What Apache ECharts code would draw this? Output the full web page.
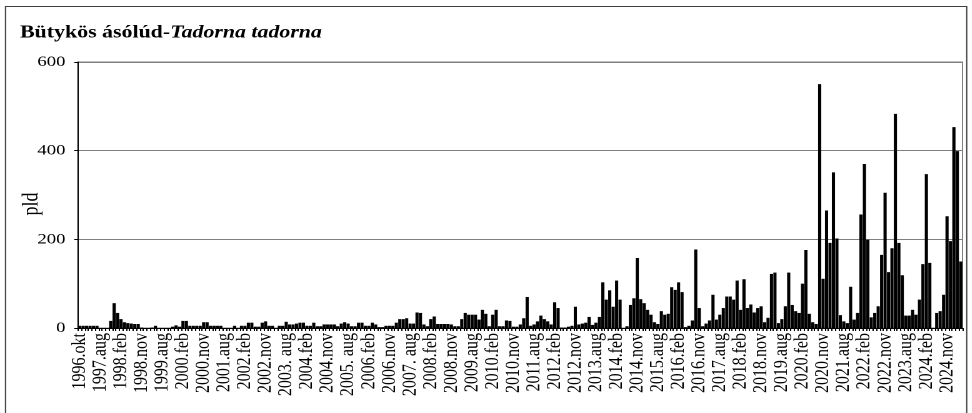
<!DOCTYPE html>
<html>
<head>
<meta charset="utf-8">
<script src="https://cdn.jsdelivr.net/npm/echarts@6/dist/echarts.min.js"></script>
<style>
  html, body { margin: 0; padding: 0; background: #fff; overflow: hidden; }
  /* the reference picture is horizontally stretched; draw at 972/1.25 wide and stretch */
  #chart { width: 777.6px; height: 413px; transform: scaleX(1.25); transform-origin: 0 0; }
</style>
</head>
<body>
<div id="chart"></div>
<script>
// Survey months of one season (Aug -> Apr)
const seasonMonths = ['aug', 'sep', 'okt', 'nov', 'dec', 'jan', 'feb', 'mar', 'apr'];
// first (partial) season 1996/97
const firstSeason = ['1996.okt', '1996.nov', '1996.dec', '1997.jan', '1997.feb', '1997.mar'];
const lastSeasonStart = 2024; // 2024.aug ... 2025.mar
const lastSeasonLength = 8;

// Axis labels shown under the chart (every 6th survey)
const tickLabels = ['1996.okt', '1997.aug', '1998.feb', '1998.nov', '1999.aug', '2000.feb', '2000.nov',
  '2001.aug', '2002.feb', '2002.nov', '2003. aug', '2004.feb', '2004.nov', '2005. aug', '2006.feb',
  '2006.nov', '2007. aug', '2008.feb', '2008.nov', '2009.aug', '2010.feb', '2010.nov', '2011.aug',
  '2012.feb', '2012.nov', '2013.aug', '2014.feb', '2014.nov', '2015.aug', '2016.feb', '2016.nov',
  '2017.aug', '2018.feb', '2018.nov', '2019.aug', '2020.feb', '2020.nov', '2021.aug', '2022.feb',
  '2022.nov', '2023.aug', '2024.feb', '2024.nov'];

// Counts (pld), grouped by season
const counts1996to2002 = [
  5, 5, 5, 5, 5, 5,
  0, 0, 0, 16, 56, 34, 20, 13, 11,
  10, 9, 9, 1, 0, 0, 1, 5, 0,
  0, 0, 0, 3, 6, 3, 16, 16, 5,
  5, 5, 5, 13, 13, 5, 5, 5, 5,
  0, 0, 0, 5, 0, 5, 5, 12, 12,
  3, 3, 12, 15, 5, 5, 0, 5, 5
];
const counts2003to2009 = [
  14, 8, 8, 10, 12, 12, 5, 5, 12,
  4, 4, 8, 8, 8, 8, 4, 10, 13,
  10, 4, 4, 12, 12, 5, 5, 12, 8,
  2, 2, 5, 5, 5, 12, 20, 20, 22,
  10, 10, 35, 34, 8, 4, 20, 26, 9,
  9, 9, 9, 8, 4, 4, 20, 34, 30,
  30, 30, 19, 41, 32, 4, 30, 41, 4
];
const counts2010to2016 = [
  4, 17, 16, 3, 3, 8, 22, 70, 5,
  8, 15, 28, 20, 15, 8, 58, 45, 1,
  1, 3, 5, 48, 8, 10, 12, 25, 7,
  12, 25, 103, 64, 85, 48, 107, 64, 0,
  4, 52, 67, 158, 65, 56, 41, 30, 13,
  9, 38, 30, 32, 92, 86, 103, 81, 2,
  5, 17, 177, 45, 4, 10, 17, 75, 19
];
const counts2017to2024 = [
  30, 45, 71, 71, 64, 107, 41, 110, 45,
  53, 35, 45, 49, 13, 23, 122, 125, 11,
  20, 49, 125, 52, 38, 34, 100, 176, 32,
  13, 9, 550, 111, 265, 192, 351, 202, 29,
  15, 11, 93, 19, 34, 256, 370, 199, 24,
  34, 49, 165, 305, 126, 180, 483, 192, 119,
  28, 28, 41, 30, 64, 144, 347, 147, 0,
  34, 38, 75, 252, 196, 453, 399, 150
];

const counts = counts1996to2002.concat(counts2003to2009, counts2010to2016, counts2017to2024);

// Build survey categories
const categories = firstSeason.slice();
for (let y = 1997; y <= lastSeasonStart; y++) {
  const n = (y === lastSeasonStart) ? lastSeasonLength : seasonMonths.length;
  for (let k = 0; k < n; k++) {
    const m = seasonMonths[k];
    const yr = (k <= 4) ? y : y + 1;
    categories.push(yr + '.' + m);
  }
}

const serif = '"Liberation Serif", "Times New Roman", serif';
const chart = echarts.init(document.getElementById('chart'), null, { renderer: 'canvas', devicePixelRatio: 2 });

chart.setOption({
  animation: false,
  backgroundColor: '#ffffff',
  title: {
    text: '{b|Bütykös ásólúd-}{i|Tadorna tadorna}',
    left: 11,
    top: 19,
    textStyle: {
      rich: {
        b: { fontFamily: serif, fontWeight: 'bold', fontSize: 17.5, color: '#000' },
        i: { fontFamily: serif, fontWeight: 'bold', fontStyle: 'italic', fontSize: 17.5, color: '#000' }
      }
    }
  },
  graphic: [{
    type: 'rect',
    shape: { x: 4.4, y: 6.5, width: 769, height: 420 },
    style: { fill: 'none', stroke: '#404040', lineWidth: 1 },
    silent: true
  }],
  grid: {
    left: 62.4, right: 8, top: 62, bottom: 85,
    containLabel: false,
    outerBoundsMode: 'none',
    show: true, borderColor: '#808080', borderWidth: 1, backgroundColor: 'transparent'
  },
  xAxis: {
    type: 'category',
    data: categories,
    boundaryGap: true,
    axisLine: { lineStyle: { color: '#000', width: 1 } },
    axisTick: { show: true, interval: 0, length: 3, lineStyle: { color: '#000' } },
    axisLabel: {
      interval: 5,
      rotate: 90,
      margin: 5,
      fontFamily: serif,
      fontSize: 16,
      color: '#000',
      formatter: function (v, i) { return tickLabels[Math.round(i / 6)] || ''; }
    },
    splitLine: { show: false }
  },
  yAxis: {
    type: 'value',
    min: 0, max: 600, interval: 200,
    name: 'pld',
    nameLocation: 'middle',
    nameGap: 28,
    nameMoveOverlap: false,
    nameTextStyle: { fontFamily: serif, fontSize: 18, color: '#000', padding: [0, 18, 0, 0] },
    axisLine: { show: true, lineStyle: { color: '#000', width: 1 } },
    axisTick: { show: true, length: 3, lineStyle: { color: '#000' } },
    axisLabel: { fontFamily: serif, fontSize: 15, color: '#000', margin: 10 },
    splitLine: { show: true, lineStyle: { color: '#808080', width: 1 } }
  },
  series: [{
    type: 'bar',
    data: counts,
    barCategoryGap: '8%',
    itemStyle: { color: '#000' },
    silent: true
  }]
});
</script>
</body>
</html>
